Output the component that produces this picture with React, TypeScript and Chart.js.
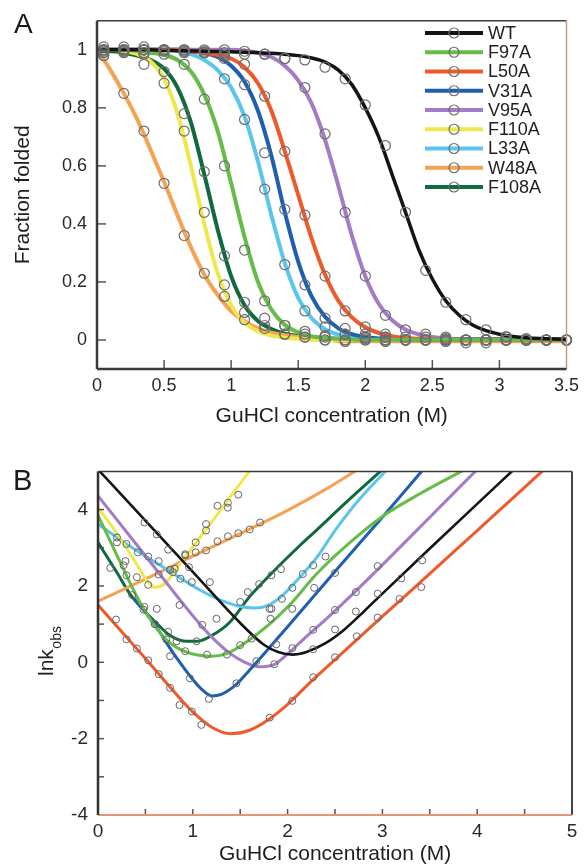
import React, { useEffect, useRef } from "react";
import { Chart, registerables } from "chart.js";
Chart.register(...registerables);

const FONT = "'Liberation Sans', Arial, Helvetica, sans-serif";

// ---------- shared series info ----------
const SERIES = ["WT", "F97A", "L50A", "V31A", "V95A", "F110A", "L33A", "W48A", "F108A"];
const COLORS = ["#141414", "#66bc48", "#ef5a2a", "#1e5fb0", "#a47cc6", "#efe74e", "#5ac6ee", "#f6a253", "#0f6b3c"];

// ---------- Panel A: fraction folded ----------
const A_X_TICKS = [0, 0.5, 1, 1.5, 2, 2.5, 3, 3.5];
const A_X_LABELS = ["0", "0.5", "1", "1.5", "2", "2.5", "3", "3.5"];
const A_Y_TICKS = [0, 0.2, 0.4, 0.6, 0.8, 1];
const A_Y_LABELS = ["0", "0.2", "0.4", "0.6", "0.8", "1"];

const A_CURVE_X = [0, 0.1, 0.2, 0.3, 0.4, 0.5, 0.6, 0.7, 0.8, 0.9, 1, 1.1, 1.2, 1.3, 1.4, 1.5, 1.6, 1.7, 1.8, 1.9, 2, 2.1, 2.2, 2.3, 2.4, 2.5, 2.6, 2.7, 2.8, 2.9, 3, 3.1, 3.2, 3.3, 3.4, 3.5];
const A_WT = [1, 1, 1, 1, 1, 0.998, 0.997, 0.996, 0.995, 0.994, 0.993, 0.992, 0.99, 0.988, 0.985, 0.98, 0.972, 0.958, 0.93, 0.88, 0.8, 0.7, 0.57, 0.44, 0.31, 0.21, 0.135, 0.085, 0.052, 0.032, 0.02, 0.012, 0.008, 0.005, 0.003, 0.002];
const A_F97A = [1, 1, 1, 0.997, 0.99, 0.983, 0.965, 0.925, 0.845, 0.72, 0.54, 0.355, 0.2, 0.105, 0.052, 0.026, 0.013, 0.007, 0.004, 0.002, 0.001, 0.001, 0.001, 0.001, 0.001, 0.001, 0.001, 0.001, 0.001, 0.001, 0.001, 0.001, 0.001, 0.001, 0.001, 0.001];
const A_L50A = [1, 1, 1, 1, 1, 1, 1, 0.995, 0.99, 0.982, 0.97, 0.94, 0.885, 0.79, 0.65, 0.5, 0.35, 0.225, 0.135, 0.078, 0.044, 0.024, 0.013, 0.007, 0.004, 0.002, 0.001, 0.001, 0.001, 0.001, 0.001, 0.001, 0.001, 0.001, 0.001, 0.001];
const A_V31A = [1, 1, 1, 1, 1, 1, 1, 0.995, 0.99, 0.975, 0.945, 0.89, 0.79, 0.635, 0.44, 0.27, 0.15, 0.08, 0.04, 0.02, 0.01, 0.005, 0.003, 0.001, 0.001, 0.001, 0.001, 0.001, 0.001, 0.001, 0.001, 0.001, 0.001, 0.001, 0.001, 0.001];
const A_V95A = [1, 1, 1, 1, 1, 1, 1, 1, 1, 1, 1, 0.997, 0.99, 0.975, 0.945, 0.895, 0.815, 0.69, 0.53, 0.36, 0.22, 0.125, 0.068, 0.036, 0.019, 0.01, 0.005, 0.003, 0.001, 0.001, 0.001, 0.001, 0.001, 0.001, 0.001, 0.001];
const A_F110A = [1, 1, 0.995, 0.985, 0.96, 0.9, 0.78, 0.6, 0.4, 0.23, 0.12, 0.06, 0.03, 0.015, 0.008, 0.004, 0, 0, 0, 0, 0, 0, 0, 0, 0, 0, 0, 0, 0, 0, 0, 0, 0, 0, 0, 0];
const A_L33A = [1, 1, 1, 1, 1, 1, 0.995, 0.985, 0.965, 0.93, 0.87, 0.77, 0.615, 0.43, 0.265, 0.145, 0.075, 0.037, 0.018, 0.009, 0.005, 0.002, 0.002, 0.002, 0.002, 0.002, 0.002, 0.002, 0.002, 0.002, 0.002, 0.002, 0.002, 0.002, 0.002, 0.002];
const A_W48A = [1, 0.93, 0.85, 0.76, 0.655, 0.545, 0.43, 0.32, 0.225, 0.155, 0.1, 0.065, 0.04, 0.025, 0.016, 0.01, 0.006, 0.004, -0.004, -0.004, -0.004, -0.004, -0.004, -0.004, -0.004, -0.004, -0.004, -0.004, -0.004, -0.004, -0.004, -0.004, -0.004, -0.004, -0.004, -0.004];
const A_F108A = [0.995, 0.995, 0.99, 0.98, 0.965, 0.935, 0.87, 0.75, 0.57, 0.38, 0.22, 0.12, 0.065, 0.038, 0.022, 0.014, 0.009, 0.006, 0.004, 0.003, 0.003, 0.003, 0.003, 0.003, 0.003, 0.003, 0.003, 0.003, 0.003, 0.003, 0.003, 0.003, 0.003, 0.003, 0.003, 0.003];

const A_PTS_X = [0.05, 0.2, 0.35, 0.5, 0.65, 0.8, 0.95, 1.1, 1.25, 1.4, 1.55, 1.7, 1.85, 2, 2.15, 2.3, 2.45, 2.6, 2.75, 2.9, 3.05, 3.2, 3.35, 3.5];
const A_PTS_WT = [1, 1, 1.01, 0.995, 0.99, 0.99, 0.99, 0.985, 0.985, 0.97, 0.965, 0.94, 0.9, 0.81, 0.67, 0.44, 0.24, 0.13, 0.07, 0.035, 0.012, 0.005, 0, 0];
const A_PTS_F97A = [1, 0.995, 0.99, 0.985, 0.95, 0.83, 0.6, 0.31, 0.135, 0.05, 0.03, 0.015, 0.02, 0, 0.01, 0, 0.01, 0, 0, -0.01, 0, 0, 0, 0];
const A_PTS_L50A = [1.01, 1, 1, 1, 0.995, 0.99, 0.98, 0.95, 0.84, 0.65, 0.43, 0.22, 0.1, 0.045, 0.02, 0.01, 0, 0.01, 0, 0, 0, 0, 0, 0];
const A_PTS_V31A = [1, 1.01, 1, 1, 1, 0.995, 0.97, 0.88, 0.645, 0.45, 0.19, 0.075, 0.04, 0.02, 0.01, 0, 0, 0, -0.01, 0, 0, 0, 0, 0];
const A_PTS_V95A = [0.995, 1, 1, 1, 1, 1, 1, 0.995, 0.985, 0.97, 0.87, 0.71, 0.44, 0.22, 0.085, 0.035, 0.02, 0.005, 0, 0, 0.01, 0, 0, 0];
const A_PTS_F110A = [0.99, 0.995, 0.95, 0.885, 0.72, 0.44, 0.19, 0.07, 0.05, 0.02, 0.01, 0, 0, 0.01, 0, 0, 0, 0, 0, 0, 0, 0, 0, 0];
const A_PTS_L33A = [1, 1, 1, 1, 0.995, 0.99, 0.9, 0.76, 0.52, 0.26, 0.1, 0.045, 0.02, 0.01, 0, 0, 0, 0, 0, 0, 0, 0, 0, 0];
const A_PTS_W48A = [0.98, 0.85, 0.72, 0.54, 0.36, 0.23, 0.15, 0.095, 0.04, 0.02, 0.01, 0, -0.005, 0, -0.005, 0, 0, -0.005, 0, 0, 0, 0, 0, 0];
const A_PTS_F108A = [0.98, 0.99, 0.985, 0.925, 0.78, 0.58, 0.29, 0.13, 0.075, 0.05, 0.02, 0.01, 0, 0.005, 0, 0, 0, 0, 0, 0, 0, 0, 0, 0];

// ---------- Panel B: chevron plots (ln k_obs) ----------
const B_X_TICKS = [0, 1, 2, 3, 4, 5];
const B_X_LABELS = ["0", "1", "2", "3", "4", "5"];
const B_Y_TICKS = [-4, -2, 0, 2, 4];
const B_Y_LABELS = ["-4", "-2", "0", "2", "4"];
const B_X_MARKS = [0.5, 1, 1.5, 2, 2.5, 3, 3.5, 4, 4.5];
const B_Y_MARKS = [-3, -2, -1, 0, 1, 2, 3, 4];

const B_WT_X = [0, 0.5, 1.0, 1.5, 1.75, 1.9, 2.05, 2.2, 2.4, 2.6, 2.8, 3.0, 3.5, 4.0, 4.4];
const B_WT_Y = [5.05, 3.71, 2.37, 1.03, 0.46, 0.27, 0.2, 0.27, 0.5, 0.86, 1.32, 1.8, 2.98, 4.15, 5.08];
const B_F97A_X = [0, 0.2, 0.44, 0.6, 0.74, 0.9, 1.05, 1.2, 1.35, 1.5, 1.8, 2.05, 2.3, 2.65, 3.0, 3.4, 3.87];
const B_F97A_Y = [3.85, 2.8, 1.58, 0.95, 0.55, 0.3, 0.19, 0.16, 0.22, 0.42, 0.98, 1.58, 2.3, 3.12, 3.82, 4.42, 5.05];
const B_L50A_X = [0, 0.25, 0.5, 0.75, 1.0, 1.2, 1.4, 1.6, 1.8, 2.0, 2.25, 2.5, 3.0, 3.5, 4.0, 4.5, 4.72];
const B_L50A_Y = [1.5, 0.8, 0.1, -0.62, -1.3, -1.7, -1.87, -1.78, -1.5, -1.1, -0.5, 0.07, 1.2, 2.32, 3.45, 4.58, 5.08];
const B_V31A_X = [0.38, 0.6, 0.8, 1.0, 1.1, 1.2, 1.3, 1.45, 1.6, 1.8, 2.0, 2.5, 3.0, 3.43];
const B_V31A_Y = [1.68, 0.98, 0.22, -0.45, -0.72, -0.88, -0.84, -0.6, -0.2, 0.36, 0.93, 2.38, 3.8, 5.05];
const B_V95A_X = [0, 0.5, 1.0, 1.2, 1.4, 1.55, 1.7, 1.85, 2.0, 2.2, 2.4, 2.7, 3.0, 3.5, 4.0];
const B_V95A_Y = [4.36, 2.79, 1.22, 0.66, 0.22, 0.0, -0.12, -0.07, 0.22, 0.68, 1.12, 1.82, 2.55, 3.8, 5.05];
const B_F110A_X = [0, 0.1, 0.2, 0.3, 0.4, 0.5, 0.6, 0.7, 0.8, 0.9, 1.0, 1.2, 1.4, 1.62];
const B_F110A_Y = [4.05, 3.72, 3.38, 3.0, 2.6, 2.2, 1.96, 2.05, 2.35, 2.7, 3.02, 3.68, 4.35, 5.08];
const B_L33A_X = [0, 0.3, 0.72, 1.07, 1.3, 1.5, 1.65, 1.8, 1.95, 2.1, 2.3, 2.5, 2.75, 3.05];
const B_L33A_Y = [3.62, 3.1, 2.44, 1.9, 1.62, 1.46, 1.42, 1.5, 1.76, 2.15, 2.72, 3.45, 4.25, 5.05];
const B_W48A_X = [0, 0.5, 1.0, 1.5, 2.0, 2.4, 2.74];
const B_W48A_Y = [1.6, 2.18, 2.78, 3.37, 3.98, 4.53, 5.05];
const B_F108A_X = [0, 0.2, 0.34, 0.5, 0.62, 0.75, 0.9, 1.05, 1.2, 1.39, 1.6, 1.85, 2.13, 2.3, 2.6, 3.0];
const B_F108A_Y = [3.14, 2.35, 1.78, 1.32, 1.02, 0.72, 0.56, 0.55, 0.7, 1.05, 1.72, 2.38, 3.06, 3.45, 4.15, 5.05];

const B_PTS_WT_X = [0.49, 0.62, 0.74, 0.96, 1.62, 2.27, 2.5, 2.72, 2.95, 3.2, 3.42];
const B_PTS_WT_Y = [3.66, 3.35, 2.95, 2.49, 0.62, 0.34, 0.86, 1.33, 1.8, 2.2, 2.67];
const B_PTS_F97A_X = [0.27, 0.3, 0.49, 0.74, 0.92, 1.15, 1.36, 1.5, 1.82, 1.83, 2.05, 2.28];
const B_PTS_F97A_Y = [2.54, 2.28, 1.45, 0.8, 0.29, 0.2, 0.2, 0.45, 1.14, 1.4, 1.4, 1.95];
const B_PTS_L50A_X = [0.19, 0.3, 0.41, 0.53, 0.64, 0.76, 0.86, 0.99, 1.09, 1.81, 2.05, 2.27, 2.5, 2.73, 2.95, 3.18, 3.41];
const B_PTS_L50A_Y = [1.12, 0.6, 0.36, 0.05, -0.31, -0.67, -1.12, -1.29, -1.64, -1.45, -1.01, -0.39, 0.13, 0.68, 1.17, 1.66, 1.97];
const B_PTS_V31A_X = [0.6, 0.76, 0.97, 1.17, 1.46, 1.67, 1.88, 2.5];
const B_PTS_V31A_Y = [1.0, 0.16, -0.42, -0.96, -0.55, 0.03, 0.47, 2.34];
const B_PTS_V95A_X = [0.86, 1.1, 1.86, 2.05, 2.27, 2.5, 2.72, 2.95];
const B_PTS_V95A_Y = [1.5, 0.98, -0.05, 0.37, 0.85, 1.37, 1.84, 2.52];
const B_PTS_F110A_X = [0.41, 0.53, 0.79, 0.92, 1.03, 1.14, 1.14, 1.26, 1.37, 1.37, 1.48];
const B_PTS_F110A_Y = [2.23, 2.03, 2.36, 2.83, 3.14, 3.45, 3.62, 4.1, 4.18, 4.05, 4.39];
const B_PTS_L33A_X = [0.2, 0.2, 0.3, 0.42, 0.53, 0.64, 0.76, 0.87, 0.99, 1.18, 1.5, 1.81, 1.94, 2.05, 2.16, 2.27, 2.4];
const B_PTS_L33A_Y = [3.27, 3.14, 3.1, 2.88, 2.77, 2.65, 2.42, 2.19, 2.1, 2.1, 1.58, 1.4, 1.66, 1.95, 2.31, 2.54, 2.77];
const B_PTS_W48A_X = [0.64, 0.76, 0.81, 0.92, 1.03, 1.14, 1.26, 1.37, 1.48, 1.6, 1.71];
const B_PTS_W48A_Y = [2.3, 2.42, 2.45, 2.8, 2.88, 2.93, 3.17, 3.3, 3.38, 3.48, 3.66];
const B_PTS_F108A_X = [0.13, 0.29, 0.36, 0.48, 0.6, 0.62, 0.72, 0.83, 1.04, 1.25, 1.58, 1.7, 1.83, 1.93];
const B_PTS_F108A_Y = [2.47, 2.65, 1.76, 1.38, 1.0, 1.4, 0.6, 0.55, 0.55, 1.14, 1.84, 2.05, 2.28, 2.44];

// ---------- build helpers ----------
const A_CURVES = [A_WT, A_F97A, A_L50A, A_V31A, A_V95A, A_F110A, A_L33A, A_W48A, A_F108A];
const A_POINTS = [A_PTS_WT, A_PTS_F97A, A_PTS_L50A, A_PTS_V31A, A_PTS_V95A, A_PTS_F110A, A_PTS_L33A, A_PTS_W48A, A_PTS_F108A];
const B_CURVES = [
  [B_WT_X, B_WT_Y], [B_F97A_X, B_F97A_Y], [B_L50A_X, B_L50A_Y], [B_V31A_X, B_V31A_Y], [B_V95A_X, B_V95A_Y],
  [B_F110A_X, B_F110A_Y], [B_L33A_X, B_L33A_Y], [B_W48A_X, B_W48A_Y], [B_F108A_X, B_F108A_Y],
];
const B_POINTS = [
  [B_PTS_WT_X, B_PTS_WT_Y], [B_PTS_F97A_X, B_PTS_F97A_Y], [B_PTS_L50A_X, B_PTS_L50A_Y], [B_PTS_V31A_X, B_PTS_V31A_Y],
  [B_PTS_V95A_X, B_PTS_V95A_Y], [B_PTS_F110A_X, B_PTS_F110A_Y], [B_PTS_L33A_X, B_PTS_L33A_Y], [B_PTS_W48A_X, B_PTS_W48A_Y],
  [B_PTS_F108A_X, B_PTS_F108A_Y],
];

const zip = (xs: number[], ys: number[]) => xs.map((x, i) => ({ x, y: ys[i] }));

type Side = { color: string; width: number };
function framePlugin(id: string, cfg: any) {
  return {
    id,
    afterDatasetsDraw(chart: any) {
      const { ctx, chartArea: a, scales } = chart;
      ctx.save();
      ctx.strokeStyle = cfg.tickColor;
      ctx.lineWidth = cfg.tickWidth;
      for (const v of cfg.xMarks) {
        const px = scales.x.getPixelForValue(v);
        ctx.beginPath();
        ctx.moveTo(px, a.bottom);
        ctx.lineTo(px, a.bottom - cfg.tickLen);
        ctx.stroke();
      }
      for (const v of cfg.yMarks) {
        const py = scales.y.getPixelForValue(v);
        ctx.beginPath();
        ctx.moveTo(a.left, py);
        ctx.lineTo(a.left + cfg.tickLen, py);
        ctx.stroke();
      }
      const line = (x1: number, y1: number, x2: number, y2: number, s: Side) => {
        ctx.strokeStyle = s.color;
        ctx.lineWidth = s.width;
        ctx.beginPath();
        ctx.moveTo(x1, y1);
        ctx.lineTo(x2, y2);
        ctx.stroke();
      };
      line(a.left, a.top, a.right, a.top, cfg.top);
      line(a.right, a.top, a.right, a.bottom, cfg.right);
      line(a.left, a.bottom, a.right, a.bottom, cfg.bottom);
      line(a.left, a.top, a.left, a.bottom, cfg.left);
      ctx.restore();
    },
  };
}

function letterPlugin(id: string, text: string, x: number, y: number, size: number) {
  return {
    id,
    afterDraw(chart: any) {
      const ctx = chart.ctx;
      ctx.save();
      ctx.fillStyle = "#1a1a1a";
      ctx.font = `${size}px ${FONT}`;
      ctx.textBaseline = "alphabetic";
      ctx.textAlign = "left";
      ctx.fillText(text, x, y);
      ctx.restore();
    },
  };
}

const legendPluginA = {
  id: "legendA",
  afterDraw(chart: any) {
    const ctx = chart.ctx;
    ctx.save();
    SERIES.forEach((name, i) => {
      const y = 33 + i * 19.25;
      ctx.strokeStyle = COLORS[i];
      ctx.lineWidth = 4;
      ctx.beginPath();
      ctx.moveTo(425, y);
      ctx.lineTo(483, y);
      ctx.stroke();
      ctx.strokeStyle = "#6e6e6e";
      ctx.lineWidth = 1.2;
      ctx.beginPath();
      ctx.arc(454, y, 5, 0, Math.PI * 2);
      ctx.stroke();
      ctx.fillStyle = "#1e1e1e";
      ctx.font = `18px ${FONT}`;
      ctx.textBaseline = "middle";
      ctx.textAlign = "left";
      ctx.fillText(name, 488, y + 1);
    });
    ctx.restore();
  },
};

const yTitlePluginB = {
  id: "yTitleB",
  afterDraw(chart: any) {
    const ctx = chart.ctx;
    ctx.save();
    ctx.translate(53, 226);
    ctx.rotate(-Math.PI / 2);
    ctx.fillStyle = "#1e1e1e";
    ctx.textBaseline = "alphabetic";
    ctx.textAlign = "left";
    ctx.font = `21px ${FONT}`;
    ctx.fillText("lnk", 0, 0);
    const w = ctx.measureText("lnk").width;
    ctx.font = `14px ${FONT}`;
    ctx.fillText("obs", w + 0.5, 8);
    ctx.restore();
  },
};

const tickFont = (size: number) => ({ family: FONT, size });
const titleFont = { family: FONT, size: 21, lineHeight: 1 };

function configA(): any {
  const datasets: any[] = [];
  SERIES.forEach((name, i) => {
    datasets.push({
      label: name + " fit",
      data: zip(A_CURVE_X, A_CURVES[i]),
      showLine: true,
      borderColor: COLORS[i],
      borderWidth: i === 0 ? 3.5 : 4,
      pointRadius: 0,
      cubicInterpolationMode: "monotone",
      order: 2,
      clip: 0,
    });
    datasets.push({
      label: name,
      data: zip(A_PTS_X, A_POINTS[i]),
      showLine: false,
      pointRadius: 5,
      pointBackgroundColor: "rgba(0,0,0,0)",
      pointBorderColor: "#6e6e6e",
      pointBorderWidth: 1.2,
      order: 1,
      clip: false,
    });
  });
  return {
    type: "scatter",
    data: { datasets },
    options: {
      animation: false,
      responsive: false,
      maintainAspectRatio: false,
      devicePixelRatio: 1,
      events: [],
      layout: { padding: { left: 0, top: 12, right: 16, bottom: 0 } },
      plugins: { legend: { display: false }, tooltip: { enabled: false } },
      scales: {
        x: {
          type: "linear",
          min: 0,
          max: 3.5,
          grid: { display: false, drawTicks: false },
          border: { display: false },
          ticks: { font: tickFont(18), color: "#2a2a2a", padding: 6, maxRotation: 0, autoSkip: false, callback: (_v: any, i: number) => A_X_LABELS[i] },
          afterBuildTicks: (s: any) => { s.ticks = A_X_TICKS.map((v) => ({ value: v })); },
          afterFit: (s: any) => { s.height = 81; },
          title: { display: true, text: "GuHCl concentration (M)", font: titleFont, color: "#1e1e1e", padding: { top: 0, bottom: 23 } },
        },
        y: {
          type: "linear",
          min: -0.1,
          max: 1.1,
          grid: { display: false, drawTicks: false },
          border: { display: false },
          ticks: { font: tickFont(18), color: "#2a2a2a", padding: 10, autoSkip: false, callback: (_v: any, i: number) => A_Y_LABELS[i] },
          afterBuildTicks: (s: any) => { s.ticks = A_Y_TICKS.map((v) => ({ value: v })); },
          afterFit: (s: any) => { s.width = 97; },
          title: { display: true, text: "Fraction folded", font: titleFont, color: "#1e1e1e", padding: { top: 13, bottom: 0 } },
        },
      },
    },
    plugins: [
      framePlugin("frameA", {
        xMarks: [0.5, 1, 1.5, 2, 2.5, 3],
        yMarks: A_Y_TICKS,
        tickLen: 9,
        tickColor: "#555",
        tickWidth: 1.5,
        left: { color: "#3a3a3a", width: 2.5 },
        bottom: { color: "#3a3a3a", width: 2.5 },
        top: { color: "#3a3a3a", width: 1.5 },
        right: { color: "#c79a8a", width: 1.5 },
      }),
      legendPluginA,
      letterPlugin("letterA", "A", 14, 33, 28),
    ],
  };
}

function configB(): any {
  const datasets: any[] = [];
  SERIES.forEach((name, i) => {
    const [cx, cy] = B_CURVES[i];
    const [px, py] = B_POINTS[i];
    datasets.push({
      label: name + " fit",
      data: zip(cx, cy),
      showLine: true,
      borderColor: COLORS[i],
      borderWidth: i === 0 ? 2.6 : 3,
      pointRadius: 0,
      cubicInterpolationMode: "monotone",
      order: 2,
      clip: 0,
    });
    datasets.push({
      label: name,
      data: zip(px, py),
      showLine: false,
      pointRadius: 3.5,
      pointBackgroundColor: "rgba(0,0,0,0)",
      pointBorderColor: "#666",
      pointBorderWidth: 1,
      order: 1,
    });
  });
  return {
    type: "scatter",
    data: { datasets },
    options: {
      animation: false,
      responsive: false,
      maintainAspectRatio: false,
      devicePixelRatio: 1,
      events: [],
      layout: { padding: { left: 0, top: 17, right: 13, bottom: 0 } },
      plugins: { legend: { display: false }, tooltip: { enabled: false } },
      scales: {
        x: {
          type: "linear",
          min: 0,
          max: 5,
          grid: { display: false, drawTicks: false },
          border: { display: false },
          ticks: { font: tickFont(19), color: "#2a2a2a", padding: 5, maxRotation: 0, autoSkip: false, callback: (_v: any, i: number) => B_X_LABELS[i] },
          afterBuildTicks: (s: any) => { s.ticks = B_X_TICKS.map((v) => ({ value: v })); },
          afterFit: (s: any) => { s.height = 50; },
          title: { display: true, text: "GuHCl concentration (M)", font: titleFont, color: "#1e1e1e", padding: { top: 0, bottom: 0 } },
        },
        y: {
          type: "linear",
          min: -4,
          max: 5,
          grid: { display: false, drawTicks: false },
          border: { display: false },
          ticks: { font: tickFont(19), color: "#2a2a2a", padding: 10, autoSkip: false, callback: (_v: any, i: number) => B_Y_LABELS[i] },
          afterBuildTicks: (s: any) => { s.ticks = B_Y_TICKS.map((v) => ({ value: v })); },
          afterFit: (s: any) => { s.width = 98; },
          title: { display: false },
        },
      },
    },
    plugins: [
      framePlugin("frameB", {
        xMarks: B_X_MARKS,
        yMarks: B_Y_MARKS,
        tickLen: 6,
        tickColor: "#555",
        tickWidth: 1.5,
        left: { color: "#333", width: 2.5 },
        bottom: { color: "#e39479", width: 2 },
        top: { color: "#3a3a3a", width: 1.5 },
        right: { color: "#3c4a50", width: 2 },
      }),
      yTitlePluginB,
      letterPlugin("letterB", "B", 13, 40, 29),
    ],
  };
}

export default function App() {
  const refA = useRef<HTMLCanvasElement>(null);
  const refB = useRef<HTMLCanvasElement>(null);
  useEffect(() => {
    const a = new Chart(refA.current as HTMLCanvasElement, configA());
    const b = new Chart(refB.current as HTMLCanvasElement, configB());
    return () => {
      a.destroy();
      b.destroy();
    };
  }, []);
  return (
    <div style={{ position: "absolute", left: 0, top: 0, width: 585, height: 865, background: "#ffffff" }}>
      <canvas ref={refA} width={585} height={450} style={{ position: "absolute", left: 0, top: 0, width: 585, height: 450 }} />
      <canvas ref={refB} width={585} height={415} style={{ position: "absolute", left: 0, top: 450, width: 585, height: 415 }} />
    </div>
  );
}
